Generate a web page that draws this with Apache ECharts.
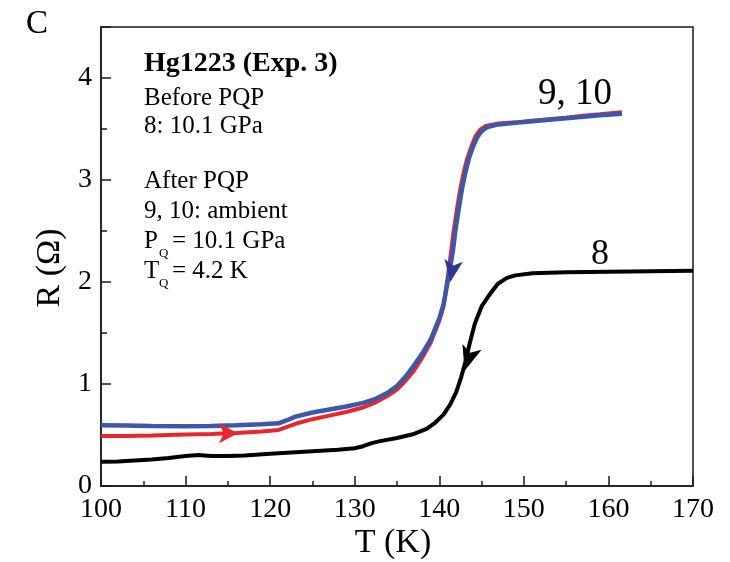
<!DOCTYPE html>
<html>
<head>
<meta charset="utf-8">
<script src="https://cdn.jsdelivr.net/npm/echarts@6/dist/echarts.min.js"></script>
<style>
html,body{margin:0;padding:0;background:#fff;}
#chart{width:730px;height:562px;}
</style>
</head>
<body>
<div id="chart"></div>
<script>
// ---- data ----
var xTicks = [100, 110, 120, 130, 140, 150, 160, 170];
var yTicks = [0, 1, 2, 3, 4];

// curve 8 (before PQP, 10.1 GPa)
var T8 = [100, 102, 104, 106, 108, 110, 111.5, 113, 115, 117, 120, 123, 125, 128, 130, 131, 132, 133, 135, 137, 138.5, 139.5, 140.5, 141.3, 142, 142.6, 143.1, 143.6, 144.2, 145, 145.8, 146.9, 148, 149, 151, 155, 160, 165, 170];
var R8 = [0.238, 0.24, 0.25, 0.26, 0.275, 0.295, 0.305, 0.295, 0.293, 0.30, 0.315, 0.33, 0.34, 0.355, 0.37, 0.39, 0.42, 0.44, 0.47, 0.51, 0.56, 0.62, 0.70, 0.80, 0.92, 1.07, 1.22, 1.40, 1.59, 1.76, 1.86, 1.98, 2.04, 2.065, 2.085, 2.095, 2.10, 2.105, 2.11];

// curve 9 (red, after PQP, ambient)
var T9 = [100, 103, 106, 110, 113, 116, 119, 121, 122, 123, 125, 127, 129, 131, 132.5, 134, 135, 136, 137, 138, 139, 140, 140.5, 141, 141.4, 141.7, 142.1, 142.5, 142.9, 143.3, 143.8, 144.3, 144.8, 145.5, 147, 149, 151, 153, 155, 157, 159, 161.6];
var R9 = [0.49, 0.49, 0.495, 0.505, 0.51, 0.52, 0.535, 0.55, 0.58, 0.61, 0.655, 0.69, 0.725, 0.77, 0.82, 0.89, 0.945, 1.03, 1.13, 1.26, 1.41, 1.62, 1.76, 2.05, 2.3, 2.5, 2.72, 2.92, 3.08, 3.21, 3.33, 3.43, 3.49, 3.53, 3.555, 3.565, 3.58, 3.595, 3.61, 3.63, 3.645, 3.665];

// curve 10 (blue, after PQP, ambient)
var T10 = [100, 103, 106, 110, 113, 116, 119, 121, 122, 123, 125, 127, 129, 131, 132.5, 134, 135, 136, 137, 138, 139, 140, 140.5, 141.1, 141.6, 141.9, 142.3, 142.7, 143.1, 143.5, 144, 144.5, 145, 145.7, 147, 149, 151, 153, 155, 157, 159, 161.6];
var R10 = [0.596, 0.592, 0.588, 0.585, 0.588, 0.596, 0.605, 0.615, 0.645, 0.68, 0.72, 0.75, 0.78, 0.815, 0.855, 0.92, 0.98, 1.07, 1.18, 1.30, 1.44, 1.64, 1.78, 2.05, 2.3, 2.5, 2.72, 2.92, 3.08, 3.21, 3.33, 3.42, 3.48, 3.52, 3.545, 3.56, 3.575, 3.59, 3.605, 3.62, 3.635, 3.65];

// direction arrows: [T, R]
var arrowRed = [116.2, 0.518];
var arrowBlue = [141.3, 2.0];
var arrowBlack = [143.0, 1.13];

// ---- build ----
function pairs(xs, ys) { return xs.map(function (x, i) { return [x, ys[i]]; }); }
var FONT = 'Liberation Serif';
var AX = '#1a1a1a';

var chart = echarts.init(document.getElementById('chart'), null, {renderer: 'canvas'});

function txt(text, x, y, size, opts) {
  opts = opts || {};
  return {
    type: 'text', x: x, y: y, z: 100, rotation: opts.rotation || 0,
    style: {
      text: text, fill: '#000',
      font: (opts.bold ? 'bold ' : '') + size + 'px "' + FONT + '"',
      fontFamily: FONT, fontSize: size, fontWeight: opts.bold ? 'bold' : 'normal',
      align: opts.align || 'left', verticalAlign: 'middle',
      textAlign: opts.align || 'left', textVerticalAlign: 'middle'
    }
  };
}

var option = {
  backgroundColor: '#fff',
  animation: false,
  grid: {left: 101, right: 37, top: 27, bottom: 76, show: true, borderColor: AX, borderWidth: 1.5, backgroundColor: 'transparent'},
  xAxis: {
    type: 'value', min: xTicks[0], max: xTicks[xTicks.length - 1], interval: 10,
    axisLine: {show: true, lineStyle: {color: AX, width: 1.5}},
    axisTick: {show: true, inside: true, length: 10, lineStyle: {color: AX, width: 1.5}},
    minorTick: {show: true, splitNumber: 2, length: 5, lineStyle: {color: AX, width: 1.5}},
    splitLine: {show: false},
    axisLabel: {color: '#000', fontFamily: FONT, fontSize: 28, margin: 10}
  },
  yAxis: {
    type: 'value', min: 0, max: 4.5, interval: 1,
    axisLine: {show: true, lineStyle: {color: AX, width: 1.5}},
    axisTick: {show: true, inside: true, length: 10, lineStyle: {color: AX, width: 1.5}},
    minorTick: {show: true, splitNumber: 2, length: 6, lineStyle: {color: AX, width: 1.5}},
    splitLine: {show: false},
    axisLabel: {color: '#000', fontFamily: FONT, fontSize: 28, margin: 9,
      formatter: function (v) { return yTicks.indexOf(v) >= 0 ? String(v) : ''; }}
  },
  series: [
    {type: 'line', name: '8', data: pairs(T8, R8), showSymbol: false, symbol: 'none',
      lineStyle: {color: '#000', width: 4}, z: 3},
    {type: 'line', name: '9', data: pairs(T9, R9), showSymbol: false, symbol: 'none',
      lineStyle: {color: '#e8262c', width: 4}, z: 4},
    {type: 'line', name: '10', data: pairs(T10, R10), showSymbol: false, symbol: 'none',
      lineStyle: {color: '#3b59a8', width: 4.5}, z: 5},
    {type: 'scatter', data: [arrowRed], symbol: 'arrow', symbolSize: [15, 19], symbolRotate: -90,
      itemStyle: {color: '#e8262c', opacity: 1}, z: 6},
    {type: 'scatter', data: [arrowBlue], symbol: 'arrow', symbolSize: [14, 22], symbolRotate: 171,
      itemStyle: {color: '#2e3592', opacity: 1}, z: 6},
    {type: 'scatter', data: [arrowBlack], symbol: 'arrow', symbolSize: [15, 25], symbolRotate: 163,
      itemStyle: {color: '#000', opacity: 1}, z: 6}
  ],
  graphic: [
    txt('C', 26, 24, 33),
    txt('Hg1223 (Exp. 3)', 144, 64, 28, {bold: true}),
    txt('Before PQP', 144, 98, 25),
    txt('8: 10.1 GPa', 144, 126, 25),
    txt('After PQP', 144, 181, 25),
    txt('9, 10: ambient', 144, 211, 25),
    txt('P', 144, 241, 25),
    txt('Q', 159, 254, 13),
    txt('= 10.1 GPa', 172, 241, 25),
    txt('T', 144, 271, 25),
    txt('Q', 159, 284, 13),
    txt('= 4.2 K', 172, 271, 25),
    txt('9, 10', 575, 94, 37, {align: 'center'}),
    txt('8', 600, 255, 36, {align: 'center'}),
    txt('T (K)', 393, 543, 34, {align: 'center'}),
    txt('R (\u03A9)', 50, 268, 34, {align: 'center', rotation: Math.PI / 2})
  ]
};
chart.setOption(option);
</script>
</body>
</html>
